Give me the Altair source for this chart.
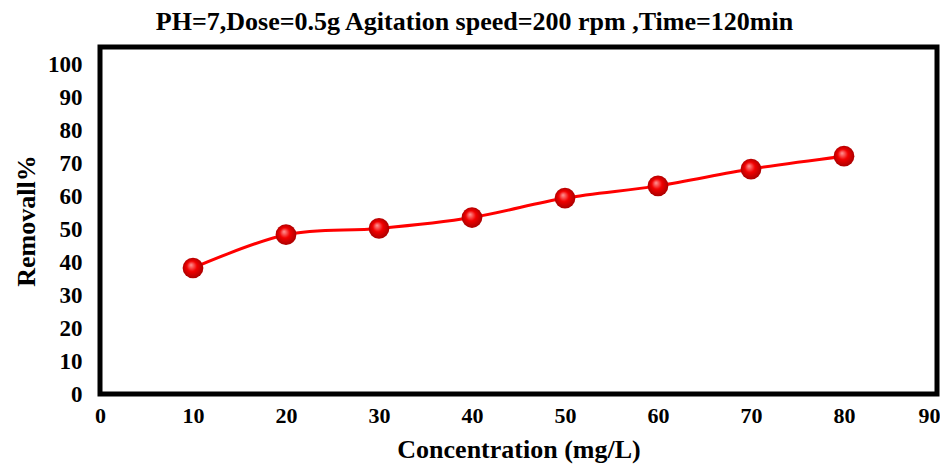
import altair as alt
import pandas as pd

concentration = [10, 20, 30, 40, 50, 60, 70, 80]
removal = [38.2, 48.3, 50.2, 53.5, 59.4, 63.1, 68.2, 72.1]

df = pd.DataFrame({"Concentration": concentration, "Removal": removal})

FONT = "Liberation Serif"

x = alt.X("Concentration:Q",
          scale=alt.Scale(domain=[0, 90], nice=False, zero=True),
          axis=alt.Axis(title="Concentration (mg/L)", values=list(range(0, 91, 10)),
                        grid=False, domain=False, ticks=False,
                        labelFont=FONT, labelFontSize=22, labelFontWeight="bold", labelColor="black",
                        labelPadding=11, labelFlush=False,
                        labelAlign=alt.expr("datum.value == 90 ? 'right' : 'center'"),
                        labelOffset=alt.expr("datum.value == 90 ? 3 : 0"),
                        titleFont=FONT, titleFontSize=26, titleFontWeight="bold", titleColor="black",
                        titlePadding=10))
y = alt.Y("Removal:Q",
          scale=alt.Scale(domain=[0, 105.2], nice=False),
          axis=alt.Axis(title="Removall%", values=list(range(0, 101, 10)),
                        grid=False, domain=False, ticks=False,
                        labelFont=FONT, labelFontSize=23, labelFontWeight="bold", labelColor="black",
                        labelPadding=18, labelFlush=False,
                        titleFont=FONT, titleFontSize=26, titleFontWeight="bold", titleColor="black",
                        titlePadding=8))

sphere = alt.RadialGradient(
    gradient="radial",
    stops=[alt.GradientStop(color="#ff9a9a", offset=0),
           alt.GradientStop(color="#f20000", offset=0.45),
           alt.GradientStop(color="#a00000", offset=1)],
    x1=0.4, y1=0.35, r1=0, x2=0.5, y2=0.5, r2=0.55)

line = alt.Chart(df).mark_line(color="#ff0000", strokeWidth=3, interpolate="catmull-rom").encode(x=x, y=y)
points = alt.Chart(df).mark_circle(size=430, fill=sphere, opacity=1, strokeWidth=0).encode(x=x, y=y)

chart = (line + points).properties(
    width=837, height=347,
    autosize=alt.AutoSizeParams(type="none"),
    padding={"left": 92, "top": 39, "right": 3, "bottom": 73},
    title=alt.TitleParams(text="PH=7,Dose=0.5g Agitation speed=200 rpm  ,Time=120min",
                          font=FONT, fontSize=26, fontWeight="bold", color="black",
                          anchor="middle", dx=-44, offset=12),
).configure(background="white").configure_view(stroke="black", strokeWidth=5)

chart.save("out.html", embed_options={"renderer": "svg", "actions": False})
